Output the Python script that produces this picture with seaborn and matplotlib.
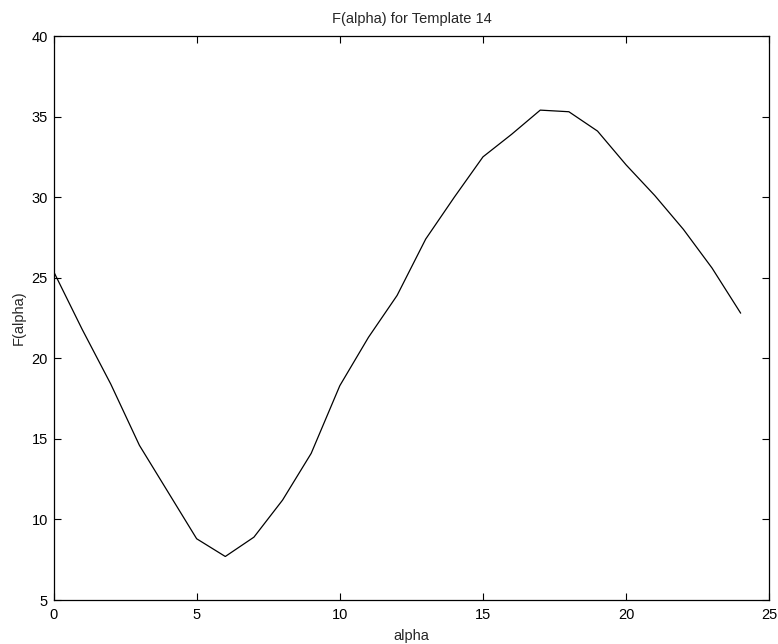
import matplotlib
matplotlib.use("Agg")
import matplotlib.pyplot as plt
import pandas as pd
import seaborn as sns

alpha = list(range(25))
f_alpha = [
    25.4, 21.8, 18.4, 14.6, 11.7, 8.8, 7.7, 8.9, 11.2, 14.1,
    18.3, 21.3, 23.9, 27.4, 30.0, 32.5, 33.9, 35.4, 35.3, 34.1,
    32.0, 30.1, 28.0, 25.6, 22.8,
]
x_ticks = [0, 5, 10, 15, 20, 25]
y_ticks = [5, 10, 15, 20, 25, 30, 35, 40]

sns.set_theme(style="ticks")
plt.rcParams["font.family"] = ["Liberation Sans", "DejaVu Sans"]

df = pd.DataFrame({"alpha": alpha, "F(alpha)": f_alpha})

fig = plt.figure(figsize=(7.78, 6.44), dpi=100)
ax = fig.add_axes([53.5 / 778, 1 - 600 / 644, (769.3 - 53.5) / 778, (600 - 36) / 644])
sns.lineplot(data=df, x="alpha", y="F(alpha)", ax=ax, color="black", linewidth=0.9)

ax.set_xlim(0, 25)
ax.set_ylim(5, 40)
ax.set_xticks(x_ticks)
ax.set_yticks(y_ticks)
ax.tick_params(direction="in", top=True, right=True, length=5, width=0.8,
               labelsize=10.5, colors="black", pad=4)
ax.tick_params(axis="x", pad=6)
for spine in ax.spines.values():
    spine.set_visible(True)
    spine.set_linewidth(0.9)
    spine.set_color("black")
ax.set_title("F(alpha) for Template 14", fontsize=10.5, pad=9)
ax.set_xlabel("alpha", fontsize=10.5, labelpad=5)
ax.set_ylabel("F(alpha)", fontsize=10.5, labelpad=4)

fig.savefig("out.png", dpi=100)
